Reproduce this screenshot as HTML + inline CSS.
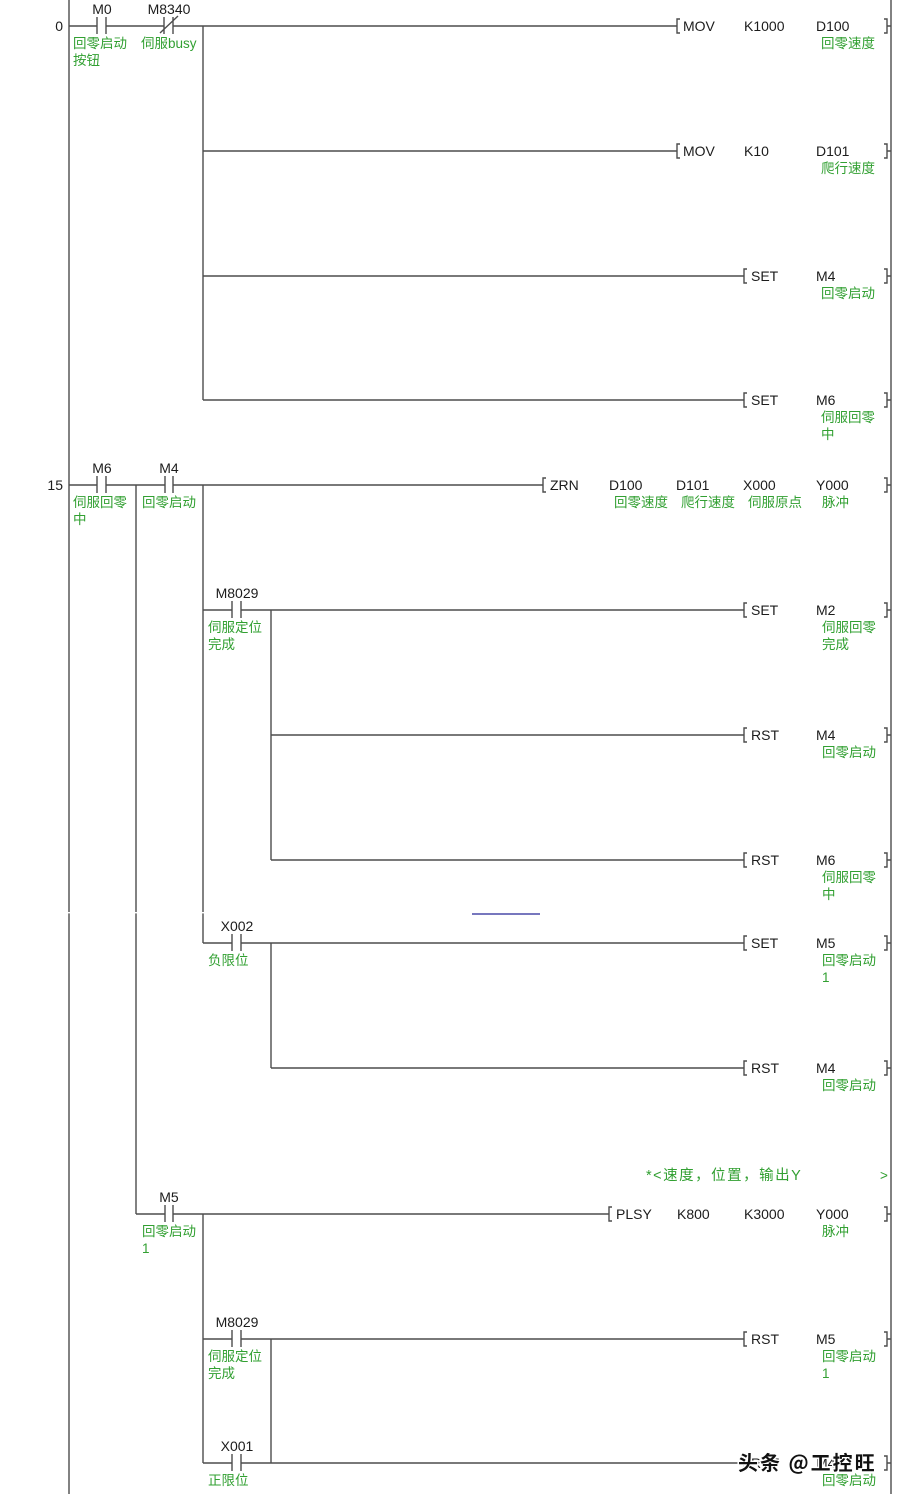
<!DOCTYPE html>
<html><head><meta charset="utf-8"><style>
html,body{margin:0;padding:0;background:#fff;}
svg{display:block;}
.t{font-family:"Liberation Sans","Noto Sans CJK SC",sans-serif;font-size:14px;fill:#1c1c1c;}
.c{font-family:"Liberation Sans","Noto Sans CJK SC",sans-serif;font-size:13.5px;fill:#32a032;}
.m{text-anchor:middle;}
.e{text-anchor:end;}
.wm{font-family:"Noto Sans CJK SC","WenQuanYi Zen Hei",sans-serif;font-size:20px;font-weight:bold;fill:#111;stroke:#fff;stroke-width:3px;paint-order:stroke;letter-spacing:2px;}
</style></head><body>
<svg width="899" height="1494" viewBox="0 0 899 1494" xmlns="http://www.w3.org/2000/svg">
<g fill="none" stroke="#4d4d4d" stroke-width="1.4">
<!-- rails -->
<path d="M69,0 V1494 M891,0 V1494"/>
<!-- rung 0 -->
<path d="M69,26 H97 M106,26 H164 M173,26 H677"/>
<path d="M97,17 V34 M106,17 V34 M164,17 V34 M173,17 V34 M160,33 L178,16"/>
<path d="M203,26 V400 M203,151 H677 M203,276 H744 M203,400 H744"/>
<!-- left brackets -->
<path d="M680,19 H677 V33 H680 M680,144 H677 V158 H680 M747,269 H744 V283 H747 M747,393 H744 V407 H747"/>
<!-- right brackets -->
<path d="M884,19 H887 V33 H884 M887,26 H891 M884,144 H887 V158 H884 M887,151 H891 M884,269 H887 V283 H884 M887,276 H891 M884,393 H887 V407 H884 M887,400 H891"/>
<!-- rung 15 -->
<path d="M69,485 H97 M106,485 H165 M173,485 H543"/>
<path d="M97,476 V493 M106,476 V493 M165,476 V493 M173,476 V493"/>
<path d="M136,485 V1214 M203,485 V943"/>
<path d="M546,478 H543 V492 H546 M884,478 H887 V492 H884 M887,485 H891"/>
<!-- M8029 -->
<path d="M203,610 H232 M241,610 H744 M232,601 V618 M241,601 V618"/>
<path d="M271,610 V860 M271,735 H744 M271,860 H744"/>
<path d="M747,603 H744 V617 H747 M747,728 H744 V742 H747 M747,853 H744 V867 H747"/>
<path d="M884,603 H887 V617 H884 M887,610 H891 M884,728 H887 V742 H884 M887,735 H891 M884,853 H887 V867 H884 M887,860 H891"/>
<!-- X002 -->
<path d="M203,943 H232 M241,943 H744 M232,934 V951 M241,934 V951"/>
<path d="M271,943 V1068 M271,1068 H744"/>
<path d="M747,936 H744 V950 H747 M747,1061 H744 V1075 H747"/>
<path d="M884,936 H887 V950 H884 M887,943 H891 M884,1061 H887 V1075 H884 M887,1068 H891"/>
<!-- M5 -->
<path d="M136,1214 H165 M173,1214 H609 M165,1205 V1222 M173,1205 V1222"/>
<path d="M203,1214 V1463"/>
<path d="M612,1207 H609 V1221 H612 M884,1207 H887 V1221 H884 M887,1214 H891"/>
<!-- M8029 #2 -->
<path d="M203,1339 H232 M241,1339 H744 M232,1330 V1347 M241,1330 V1347"/>
<path d="M271,1339 V1463"/>
<path d="M747,1332 H744 V1346 H747 M884,1332 H887 V1346 H884 M887,1339 H891"/>
<!-- X001 -->
<path d="M203,1463 H232 M241,1463 H744 M232,1454 V1471 M241,1454 V1471"/>
<path d="M747,1456 H744 V1470 H747 M884,1456 H887 V1470 H884 M887,1463 H891"/>
</g>
<!-- stitch gap -->
<rect x="60" y="912" width="150" height="1.4" fill="#fff"/>
<line x1="472" y1="914" x2="540" y2="914" stroke="#4a4aa8" stroke-width="1.5"/>

<!-- step numbers -->
<text class="t e" x="63" y="31">0</text>
<text class="t e" x="63" y="490">15</text>

<!-- rung 0 labels -->
<text class="t m" x="102" y="14">M0</text>
<text class="t m" x="169" y="14">M8340</text>
<text class="c" x="73" y="48">回零启动</text>
<text class="c" x="73" y="65">按钮</text>
<text class="c" x="141" y="48">伺服busy</text>

<text class="t" x="683" y="31">MOV</text>
<text class="t" x="744" y="31">K1000</text>
<text class="t" x="816" y="31">D100</text>
<text class="c" x="821" y="48">回零速度</text>

<text class="t" x="683" y="156">MOV</text>
<text class="t" x="744" y="156">K10</text>
<text class="t" x="816" y="156">D101</text>
<text class="c" x="821" y="173">爬行速度</text>

<text class="t" x="751" y="281">SET</text>
<text class="t" x="816" y="281">M4</text>
<text class="c" x="821" y="298">回零启动</text>

<text class="t" x="751" y="405">SET</text>
<text class="t" x="816" y="405">M6</text>
<text class="c" x="821" y="422">伺服回零</text>
<text class="c" x="821" y="439">中</text>

<!-- rung 15 -->
<text class="t m" x="102" y="473">M6</text>
<text class="t m" x="169" y="473">M4</text>
<text class="c" x="73" y="507">伺服回零</text>
<text class="c" x="73" y="524">中</text>
<text class="c" x="142" y="507">回零启动</text>

<text class="t" x="550" y="490">ZRN</text>
<text class="t" x="609" y="490">D100</text>
<text class="t" x="676" y="490">D101</text>
<text class="t" x="743" y="490">X000</text>
<text class="t" x="816" y="490">Y000</text>
<text class="c" x="614" y="507">回零速度</text>
<text class="c" x="681" y="507">爬行速度</text>
<text class="c" x="748" y="507">伺服原点</text>
<text class="c" x="822" y="507">脉冲</text>

<text class="t m" x="237" y="598">M8029</text>
<text class="c" x="208" y="632">伺服定位</text>
<text class="c" x="208" y="649">完成</text>
<text class="t" x="751" y="615">SET</text>
<text class="t" x="816" y="615">M2</text>
<text class="c" x="822" y="632">伺服回零</text>
<text class="c" x="822" y="649">完成</text>

<text class="t" x="751" y="740">RST</text>
<text class="t" x="816" y="740">M4</text>
<text class="c" x="822" y="757">回零启动</text>

<text class="t" x="751" y="865">RST</text>
<text class="t" x="816" y="865">M6</text>
<text class="c" x="822" y="882">伺服回零</text>
<text class="c" x="822" y="899">中</text>

<text class="t m" x="237" y="931">X002</text>
<text class="c" x="208" y="965">负限位</text>
<text class="t" x="751" y="948">SET</text>
<text class="t" x="816" y="948">M5</text>
<text class="c" x="822" y="965">回零启动</text>
<text class="c" x="822" y="982">1</text>

<text class="t" x="751" y="1073">RST</text>
<text class="t" x="816" y="1073">M4</text>
<text class="c" x="822" y="1090">回零启动</text>

<text class="c" x="646" y="1180" style="font-size:14.5px;letter-spacing:1.5px">*&lt;速度，位置，输出Y</text>
<text class="c" x="880" y="1180">&gt;</text>

<text class="t m" x="169" y="1202">M5</text>
<text class="c" x="142" y="1236">回零启动</text>
<text class="c" x="142" y="1253">1</text>
<text class="t" x="616" y="1219">PLSY</text>
<text class="t" x="677" y="1219">K800</text>
<text class="t" x="744" y="1219">K3000</text>
<text class="t" x="816" y="1219">Y000</text>
<text class="c" x="822" y="1236">脉冲</text>

<text class="t m" x="237" y="1327">M8029</text>
<text class="c" x="208" y="1361">伺服定位</text>
<text class="c" x="208" y="1378">完成</text>
<text class="t" x="751" y="1344">RST</text>
<text class="t" x="816" y="1344">M5</text>
<text class="c" x="822" y="1361">回零启动</text>
<text class="c" x="822" y="1378">1</text>

<text class="t m" x="237" y="1451">X001</text>
<text class="c" x="208" y="1485">正限位</text>
<text class="t" x="751" y="1468">RST</text>
<text class="t" x="816" y="1468">M4</text>
<text class="c" x="822" y="1485">回零启动</text>

<!-- watermark -->
<text class="wm" x="738" y="1470">头条 @工控旺</text>
</svg>
</body></html>
